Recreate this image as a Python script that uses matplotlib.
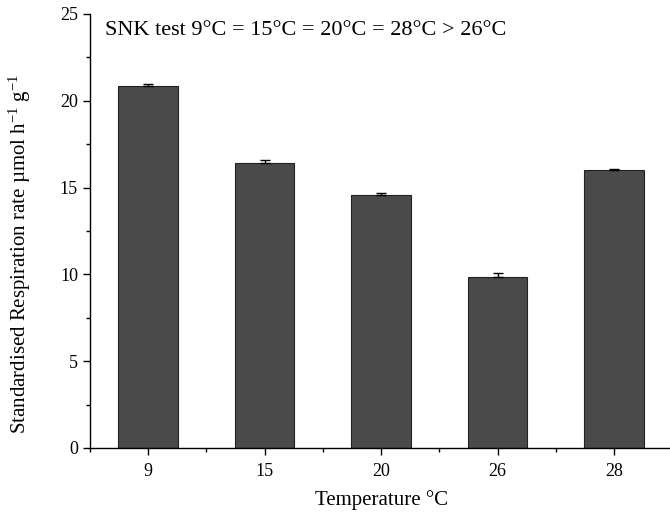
import numpy as np
import matplotlib.pyplot as plt
from matplotlib.ticker import MultipleLocator, FixedLocator

plt.rcParams["font.family"] = ["Liberation Serif", "DejaVu Serif"]
plt.rcParams["mathtext.fontset"] = "custom"
plt.rcParams["mathtext.rm"] = "Liberation Serif"
plt.rcParams["mathtext.it"] = "Liberation Serif:italic"

temps = ["9", "15", "20", "26", "28"]
rates = [20.87, 16.43, 14.55, 9.87, 16.02]
errors = [0.10, 0.15, 0.13, 0.19, 0.08]

fig = plt.figure(figsize=(6.7, 5.13), dpi=100)
ax = fig.add_axes([89.75 / 670, 1 - 448 / 513, 582.5 / 670, (448 - 14) / 513])

x = np.arange(len(temps))
ax.bar(x, rates, width=0.51, color="#4a4a4a", edgecolor="#222222", linewidth=0.8, zorder=2)
ax.errorbar(x, rates, yerr=[np.zeros(len(errors)), errors], fmt="none",
            ecolor="black", elinewidth=1.0, capsize=3.3, capthick=1.0, zorder=3)

ax.set_xlim(-0.5, 4.5)
ax.set_ylim(0, 25)
ax.set_xticks(x)
ax.set_xticklabels(temps)
ax.xaxis.set_minor_locator(FixedLocator(np.arange(-0.5, 5.0, 1.0)))
ax.yaxis.set_major_locator(MultipleLocator(5))
ax.yaxis.set_minor_locator(MultipleLocator(2.5))
ax.tick_params(axis="both", which="major", direction="out", length=5, width=1, labelsize=13)
ax.tick_params(axis="x", which="major", pad=6)
ax.tick_params(axis="both", which="minor", direction="out", length=3, width=1)

for side in ["top", "right"]:
    ax.spines[side].set_visible(False)
ax.spines["left"].set_linewidth(1)
ax.spines["bottom"].set_linewidth(1)

ax.set_xlabel("Temperature °C", fontsize=15)
ax.xaxis.set_label_coords(0.5, -0.098)
ax.set_ylabel(r"Standardised Respiration rate µmol h$^{\mathrm{-1}}$ g$^{\mathrm{-1}}$", fontsize=15)
ax.yaxis.set_label_coords(-0.097, 0.447)
ax.text(0.026, 0.963, "SNK test 9°C = 15°C = 20°C = 28°C > 26°C",
        transform=ax.transAxes, fontsize=16, va="center", ha="left")

fig.savefig("out.png", dpi=100)
